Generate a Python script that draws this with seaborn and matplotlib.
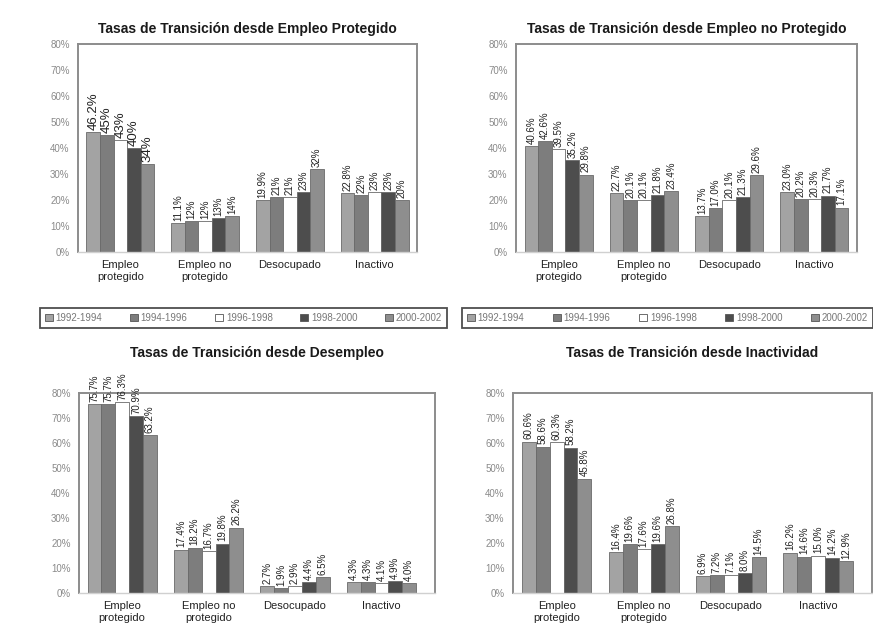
import matplotlib
matplotlib.use("Agg")
import matplotlib.pyplot as plt
from matplotlib.patches import Patch
import seaborn as sns
import pandas as pd

sns.set_theme(style="white")
plt.rcParams['font.family'] = ['Liberation Sans', 'DejaVu Sans']

categories = ["Empleo\nprotegido", "Empleo no\nprotegido", "Desocupado", "Inactivo"]
periods = ["1992-1994", "1994-1996", "1996-1998", "1998-2000", "2000-2002"]
y_ticks = [0, 10, 20, 30, 40, 50, 60, 70, 80]

title_1 = "Tasas de Transición desde Empleo Protegido"
title_2 = "Tasas de Transición desde Empleo no Protegido"
title_3 = "Tasas de Transición desde Desempleo"
title_4 = "Tasas de Transición desde Inactividad"

# values[category][period]
vals_1 = [[46.2, 45, 43, 40, 34], [11.1, 12, 12, 13, 14],
          [19.9, 21, 21, 23, 32], [22.8, 22, 23, 23, 20]]
labels_1 = [["46.2%", "45%", "43%", "40%", "34%"], ["11.1%", "12%", "12%", "13%", "14%"],
            ["19.9%", "21%", "21%", "23%", "32%"], ["22.8%", "22%", "23%", "23%", "20%"]]
vals_2 = [[40.6, 42.6, 39.5, 35.2, 29.8], [22.7, 20.1, 20.1, 21.8, 23.4],
          [13.7, 17.0, 20.1, 21.3, 29.6], [23.0, 20.2, 20.3, 21.7, 17.1]]
vals_3 = [[75.7, 75.7, 76.3, 70.9, 63.2], [17.4, 18.2, 16.7, 19.8, 26.2],
          [2.7, 1.9, 2.9, 4.4, 6.5], [4.3, 4.3, 4.1, 4.9, 4.0]]
vals_4 = [[60.6, 58.6, 60.3, 58.2, 45.8], [16.4, 19.6, 17.6, 19.6, 26.8],
          [6.9, 7.2, 7.1, 8.0, 14.5], [16.2, 14.6, 15.0, 14.2, 12.9]]

colors = ["#a3a3a3", "#7d7d7d", "#ffffff", "#4d4d4d", "#8e8e8e"]

W, H = 873, 636
fig = plt.figure(figsize=(W / 100, H / 100), dpi=100)


def fx(px):
    return px / W


def fy(py):
    return 1 - py / H


panels = [
    (title_1, vals_1, labels_1, (78, 44, 417, 252), 8, 0.0),
    (title_2, vals_2, None, (516, 44, 857, 252), 8, 0.0),
    (title_3, vals_3, None, (79, 393, 435, 593), 26, 0.12),
    (title_4, vals_4, None, (513, 393, 872, 593), 26, 0.12),
]

for title, vals, labels, (l, t, r, b), tpad, xextra in panels:
    ax = fig.add_axes([fx(l), fy(b), fx(r) - fx(l), fy(t) - fy(b)])
    rows = []
    for ci, cat in enumerate(categories):
        for pi, per in enumerate(periods):
            rows.append({"cat": cat, "period": per, "val": vals[ci][pi]})
    df = pd.DataFrame(rows)
    sns.barplot(data=df, x="cat", y="val", hue="period", order=categories,
                hue_order=periods, palette=colors, saturation=1, width=0.8,
                edgecolor="#6a6a6a", linewidth=0.6, legend=False, ax=ax,
                errorbar=None)
    if labels is None:
        labels = [[f"{v:.1f}%" for v in row] for row in vals]
    for pi, cont in enumerate(ax.containers):
        txts = ax.bar_label(cont, labels=[labels[ci][pi] for ci in range(4)],
                            rotation=90, padding=1.5, fontsize=7, color="#222222")
        if labels is labels_1:
            txts[0].set_fontsize(9.5)
    ax.set_ylim(0, 80)
    ax.set_xlim(-0.5, 3.5 + xextra)
    ax.set_yticks(y_ticks)
    ax.set_yticklabels([f"{v}%" for v in y_ticks], fontsize=7, color="#8a8a8a")
    ax.tick_params(axis="x", labelsize=8, colors="#222222", length=0, pad=6)
    ax.tick_params(axis="y", length=0, pad=6)
    ax.set_xlabel("")
    ax.set_ylabel("")
    for s in ax.spines.values():
        s.set_color("#8c8c8c")
        s.set_linewidth(1.4)
    ax.spines["bottom"].set_color("#d0d0d0")
    ax.spines["bottom"].set_linewidth(1.0)
    ax.set_title(title, fontsize=10, fontweight="bold", color="#1a1a1a", pad=tpad)

handles = [Patch(facecolor=c, edgecolor="#555555", linewidth=0.6) for c in colors]
for x0, x1 in [(40, 447), (462, 873)]:
    leg = fig.legend(handles, periods, ncol=5, loc="center",
                     bbox_to_anchor=(fx(x0), fy(330), fx(x1) - fx(x0), fy(306) - fy(330)),
                     mode="expand", fontsize=7, frameon=True, fancybox=False,
                     handlelength=0.8, handleheight=0.8, handletextpad=0.3,
                     columnspacing=0.6, borderpad=0.5, labelcolor="#777777",
                     borderaxespad=0)
    leg.get_frame().set_edgecolor("#222222")
    leg.get_frame().set_linewidth(1.3)

fig.savefig("out.png", dpi=100)
